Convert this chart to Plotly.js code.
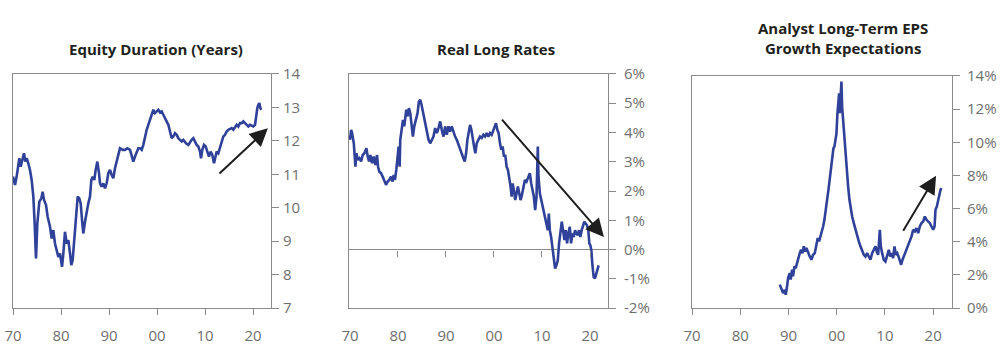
<!DOCTYPE html>
<html>
<head>
<meta charset="utf-8">
<script src="https://cdn.plot.ly/plotly-3.0.1.min.js"></script>
<style>
  html, body { margin: 0; padding: 0; background: #fff; }
  #chart { width: 1000px; height: 350px; }
</style>
</head>
<body>
<div id="chart"></div>
<script>
// ---- Data ----
const durYears = [1970.0,1970.42,1970.76,1971.32,1971.60,1971.88,1972.29,1972.57,1972.85,1973.19,1973.54,1973.89,1974.24,1974.51,1974.79,1975.07,1975.49,1975.90,1976.18,1976.46,1976.88,1977.22,1977.71,1978.06,1978.40,1978.75,1979.10,1979.44,1979.79,1980.21,1980.49,1980.83,1981.18,1981.53,1981.88,1982.15,1982.43,1982.71,1983.13,1983.47,1983.82,1984.10,1984.44,1984.65,1985.00,1985.35,1985.69,1986.04,1986.32,1986.60,1986.94,1987.22,1987.57,1987.92,1988.13,1988.47,1988.82,1989.17,1989.51,1989.86,1990.21,1990.56,1990.90,1991.25,1991.60,1991.94,1992.29,1992.85,1993.33,1993.82,1994.38,1994.72,1995.07,1995.42,1995.76,1996.11,1996.46,1996.81,1997.15,1997.50,1997.85,1998.19,1998.54,1998.89,1999.24,1999.58,1999.93,2000.28,2000.63,2000.97,2001.32,2001.67,2002.01,2002.36,2002.71,2003.06,2003.40,2003.75,2004.10,2004.44,2004.79,2005.14,2005.49,2006.04,2006.53,2006.88,2007.22,2007.57,2007.92,2008.26,2008.61,2008.96,2009.17,2009.44,2009.79,2010.14,2010.49,2010.83,2011.18,2011.53,2011.88,2012.15,2012.43,2012.78,2013.13,2013.47,2013.82,2014.17,2014.51,2014.86,2015.21,2015.56,2015.90,2016.25,2016.60,2016.94,2017.29,2017.64,2017.99,2018.33,2018.68,2019.03,2019.38,2019.72,2020.07,2020.42,2020.63,2020.90,2021.11,2021.32,2021.53,2021.74];
const durValues = [10.93,10.68,10.93,11.48,11.23,11.38,11.63,11.38,11.48,11.33,11.13,10.83,10.33,9.53,8.48,9.53,10.18,10.28,10.48,10.23,10.08,9.73,9.43,9.08,9.33,8.93,8.73,8.53,8.63,8.23,8.63,9.28,8.93,9.03,8.63,8.28,8.43,8.93,9.73,10.33,10.28,10.13,9.53,9.23,9.58,9.88,10.13,10.33,10.83,10.93,10.83,11.13,11.38,11.03,10.73,10.63,10.73,10.58,10.73,11.03,11.13,10.98,10.88,11.18,11.43,11.58,11.78,11.73,11.73,11.78,11.73,11.53,11.38,11.53,11.68,11.78,11.78,11.73,11.88,12.13,12.33,12.48,12.63,12.78,12.93,12.83,12.88,12.93,12.85,12.88,12.78,12.68,12.63,12.48,12.28,12.08,12.13,12.23,12.18,12.08,12.03,11.98,12.03,11.93,11.88,11.98,12.03,12.08,11.98,11.88,11.83,11.68,11.48,11.73,11.88,11.83,11.68,11.53,11.68,11.58,11.33,11.53,11.68,11.63,11.78,11.93,12.13,12.18,12.28,12.33,12.35,12.38,12.33,12.43,12.48,12.43,12.53,12.53,12.58,12.53,12.48,12.43,12.48,12.45,12.43,12.48,12.73,12.98,13.08,13.13,12.98,12.93];

const rateYears = [1970.0,1970.24,1970.45,1970.80,1971.14,1971.35,1971.63,1971.97,1972.32,1972.66,1973.01,1973.43,1973.70,1973.98,1974.26,1974.60,1974.95,1975.29,1975.64,1975.85,1976.12,1976.47,1976.82,1977.16,1977.51,1977.85,1978.20,1978.55,1978.89,1979.10,1979.38,1979.65,1979.93,1980.14,1980.35,1980.48,1980.76,1981.04,1981.31,1981.52,1981.73,1982.01,1982.28,1982.56,1982.84,1983.11,1983.39,1983.67,1984.08,1984.36,1984.64,1984.91,1985.19,1985.47,1985.74,1986.02,1986.37,1986.71,1987.06,1987.40,1987.75,1988.10,1988.44,1988.79,1989.13,1989.48,1989.83,1990.17,1990.52,1990.86,1991.21,1991.56,1991.90,1992.25,1992.60,1992.94,1993.29,1993.63,1993.91,1994.19,1994.46,1994.74,1995.02,1995.29,1995.57,1995.85,1996.12,1996.40,1996.75,1997.09,1997.44,1997.79,1998.13,1998.48,1998.82,1999.17,1999.52,1999.86,2000.21,2000.42,2000.69,2000.97,2001.25,2001.52,2001.80,2002.08,2002.35,2002.63,2002.91,2003.18,2003.46,2003.67,2003.88,2004.15,2004.43,2004.71,2004.98,2005.26,2005.54,2005.81,2006.09,2006.44,2006.78,2007.13,2007.47,2007.75,2008.03,2008.30,2008.58,2008.86,2009.13,2009.27,2009.55,2009.83,2010.10,2010.38,2010.66,2010.93,2011.21,2011.42,2011.63,2011.90,2012.18,2012.46,2012.73,2013.01,2013.29,2013.56,2013.84,2014.12,2014.39,2014.67,2014.95,2015.22,2015.50,2015.78,2016.06,2016.33,2016.61,2016.89,2017.16,2017.44,2017.72,2017.99,2018.27,2018.55,2018.82,2019.10,2019.38,2019.65,2019.86,2020.07,2020.28,2020.48,2020.76,2021.04,2021.31,2021.59,2021.80];
const rateValues = [3.75,4.09,3.98,3.63,2.83,3.29,3.06,3.12,3.01,3.23,3.29,3.46,3.18,3.01,3.23,2.95,3.18,2.89,3.23,2.83,2.66,2.61,2.49,2.32,2.21,2.32,2.38,2.49,2.32,2.55,2.38,2.72,3.18,3.52,2.83,3.75,4.09,4.43,4.21,4.66,4.78,4.55,4.83,4.66,4.32,3.86,4.21,4.43,4.66,5.06,5.12,4.95,4.72,4.49,4.32,4.09,3.75,3.63,3.75,3.86,4.15,3.98,4.15,4.38,4.09,3.86,4.21,3.92,4.21,4.03,4.21,3.98,3.86,3.75,3.58,3.41,3.23,3.12,3.01,3.29,3.75,3.98,4.26,4.09,3.75,3.52,3.29,3.63,3.75,3.86,3.81,3.92,3.86,3.98,3.86,3.98,3.92,4.09,4.26,4.32,4.09,3.98,3.63,3.41,3.52,3.18,3.23,2.83,2.72,2.49,2.15,1.81,2.26,2.03,1.69,1.92,2.15,1.92,1.69,1.86,2.15,2.38,2.32,2.49,2.61,2.26,2.03,1.81,1.35,1.81,3.52,2.49,1.92,1.69,1.58,1.35,1.12,0.89,0.66,1.23,0.66,0.43,0.09,-0.37,-0.65,-0.54,-0.37,0.21,0.66,0.95,0.66,0.32,0.66,0.21,0.55,0.78,0.21,0.55,0.43,0.66,0.55,0.49,0.66,0.43,0.66,0.78,0.95,0.89,0.83,0.66,0.21,0.15,-0.02,-0.48,-0.94,-0.99,-0.82,-0.71,-0.54];

const epsYears = [1988.19,1988.53,1988.88,1989.23,1989.43,1989.71,1989.92,1990.26,1990.47,1990.75,1990.95,1991.23,1991.51,1991.78,1992.06,1992.34,1992.61,1992.89,1993.17,1993.44,1993.72,1994.07,1994.41,1994.76,1995.10,1995.45,1995.80,1996.07,1996.35,1996.62,1996.90,1997.18,1997.45,1997.73,1998.01,1998.29,1998.56,1998.84,1999.11,1999.32,1999.53,1999.74,1999.95,2000.15,2000.29,2000.50,2000.64,2000.77,2000.98,2001.12,2001.26,2001.47,2001.67,2001.88,2002.09,2002.37,2002.64,2002.92,2003.20,2003.54,2003.89,2004.23,2004.58,2004.92,2005.27,2005.62,2005.96,2006.31,2006.65,2007.00,2007.34,2007.69,2008.04,2008.31,2008.59,2008.94,2009.14,2009.42,2009.76,2010.11,2010.46,2010.80,2011.08,2011.36,2011.70,2011.98,2012.25,2012.53,2012.81,2013.08,2013.36,2013.64,2013.91,2014.19,2014.47,2014.81,2015.16,2015.51,2015.85,2016.20,2016.54,2016.89,2017.23,2017.58,2017.93,2018.27,2018.62,2018.96,2019.31,2019.65,2020.00,2020.28,2020.48,2020.76,2021.04,2021.25,2021.52,2021.73];
const epsValues = [1.41,1.10,0.90,1.10,0.80,1.31,1.81,2.11,1.71,2.31,1.91,2.51,2.41,2.71,3.11,3.31,3.51,3.31,3.72,3.41,3.62,3.31,3.11,2.91,3.21,3.31,3.72,4.22,4.02,4.32,4.52,4.92,5.32,6.13,6.53,7.13,7.73,8.34,8.94,9.64,9.74,10.14,10.54,11.75,12.55,12.95,11.75,12.55,13.66,12.15,11.55,10.75,9.74,8.94,8.34,7.33,6.53,5.92,5.52,5.12,4.72,4.32,4.02,3.72,3.51,3.21,3.11,3.31,3.11,2.91,3.31,3.51,3.72,3.41,3.21,4.72,3.72,3.31,2.91,2.81,3.11,3.51,3.11,3.31,3.01,3.72,3.21,3.31,3.11,2.91,2.61,2.91,3.11,3.41,3.62,3.82,4.12,4.32,4.72,4.62,4.82,4.52,4.92,5.12,5.22,5.52,5.32,5.22,5.12,4.92,4.72,4.92,5.92,6.13,6.53,6.83,7.13,7.23];

const panelTitles = ["Equity Duration (Years)", "Real Long Rates", "Analyst Long-Term EPS<br>Growth Expectations"];
const xTickVals = [1970, 1980, 1990, 2000, 2010, 2020];
const xTickText = ["70", "80", "90", "00", "10", "20"];
const durTickVals = [7, 8, 9, 10, 11, 12, 13, 14];
const rateTickVals = [-2, -1, 0, 1, 2, 3, 4, 5, 6];
const rateTickText = ["-2%", "-1%", "0%", "1%", "2%", "3%", "4%", "5%", "6%"];
const epsTickVals = [0, 2, 4, 6, 8, 10, 12, 14];
const epsTickText = ["0%", "2%", "4%", "6%", "8%", "10%", "12%", "14%"];
// trend arrows: [tailYear, tailValue, headYear, headValue]
const durArrow = [2012.7, 10.98, 2023.1, 12.38];
const rateArrow = [2001.4, 4.49, 2022.9, 0.43];
const epsArrow = [2013.6, 4.57, 2020.6, 7.98];

// ---- Styles ----
const lineColor = "#2f4199";
const axisColor = "#8a8a8a";
const tickFont = { family: "Open Sans, Lato, sans-serif", size: 15, color: "#6f6f6f" };
const titleFont = { family: "Open Sans, Roboto, sans-serif", size: 15, color: "#231f20", weight: 700 };

function series(x, y, xa, ya) {
  return { x: x, y: y, xaxis: xa, yaxis: ya, type: "scatter", mode: "lines",
           line: { color: lineColor, width: 2.6 }, hoverinfo: "skip", showlegend: false };
}

const traces = [
  series(durYears, durValues, "x", "y"),
  series(rateYears, rateValues, "x2", "y2"),
  series(epsYears, epsValues, "x3", "y3"),
  { x: [], y: [], xaxis: "x4", yaxis: "y2", type: "scatter", mode: "lines", showlegend: false, hoverinfo: "skip" }
];

function xAxis(domain, range, anchor, extra) {
  return Object.assign({
    domain: domain, range: range, anchor: anchor,
    tickvals: xTickVals, ticktext: xTickText,
    ticks: "outside", ticklen: 6, tickwidth: 1, tickcolor: axisColor,
    showline: true, linecolor: axisColor, linewidth: 1, mirror: true,
    showgrid: false, zeroline: false, tickfont: tickFont, ticklabelstandoff: 8,
    fixedrange: true
  }, extra || {});
}
function yAxis(domain, range, anchor, tickvals, ticktext, extra) {
  return Object.assign({
    domain: domain, range: range, anchor: anchor, side: "right",
    tickvals: tickvals, ticktext: ticktext,
    ticks: "outside", ticklen: 7, tickwidth: 1, tickcolor: axisColor,
    showline: true, linecolor: axisColor, linewidth: 1, mirror: true,
    showgrid: false, zeroline: false, tickfont: tickFont,
    fixedrange: true
  }, extra || {});
}

const yDom12 = [0.12, 0.7886];
const yDom3 = [0.12, 0.7829];

function arrow(a, xref, yref) {
  return { x: a[2], y: a[3], ax: a[0], ay: a[1], xref: xref, yref: yref, axref: xref, ayref: yref,
           text: "", showarrow: true, arrowhead: 2, arrowsize: 1.8, arrowwidth: 2, arrowcolor: "#1e1e1e",
           standoff: 0, startstandoff: 0 };
}

const layout = {
  width: 1000, height: 350,
  margin: { l: 0, r: 0, t: 0, b: 0 },
  paper_bgcolor: "#ffffff", plot_bgcolor: "#ffffff",
  showlegend: false,
  xaxis: xAxis([0.013, 0.271], [1970, 2023.75], "y"),
  yaxis: yAxis(yDom12, [7, 14], "x", durTickVals, durTickVals.map(String), { ticklabelstandoff: 1 }),
  xaxis2: xAxis([0.349, 0.608], [1969.8, 2023.75], "y2", { tickcolor: "rgba(0,0,0,0)" }),
  yaxis2: yAxis(yDom12, [-2, 6], "x2", rateTickVals, rateTickText,
                { zeroline: true, zerolinecolor: axisColor, zerolinewidth: 1, ticklabelstandoff: 5 }),
  xaxis4: { overlaying: "x2", anchor: "free", position: 0.2857, range: [1969.8, 2023.75],
            tickvals: [1980, 1990, 2000, 2010, 2020], ticks: "outside", ticklen: 6, tickwidth: 1,
            tickcolor: axisColor, showticklabels: false, showline: false, showgrid: false, zeroline: false,
            fixedrange: true },
  xaxis3: xAxis([0.692, 0.952], [1970, 2023.9], "y3"),
  yaxis3: yAxis(yDom3, [0, 14], "x3", epsTickVals, epsTickText, { ticklabelstandoff: 4 }),
  annotations: [
    { text: panelTitles[0], x: 156, y: 49, xref: "paper", yref: "paper", showarrow: false, font: titleFont },
    { text: panelTitles[1], x: 496, y: 49, xref: "paper", yref: "paper", showarrow: false, font: titleFont },
    { text: panelTitles[2], x: 843, y: 38, xref: "paper", yref: "paper", showarrow: false, font: titleFont },
    arrow(durArrow, "x", "y"),
    arrow(rateArrow, "x2", "y2"),
    arrow(epsArrow, "x3", "y3")
  ]
};
// convert title pixel positions to paper fractions
layout.annotations.slice(0, 3).forEach(a => { a.x = a.x / 1000; a.y = 1 - a.y / 350; a.xanchor = "center"; a.yanchor = "middle"; });

Plotly.newPlot("chart", traces, layout, { staticPlot: true, displayModeBar: false });
</script>
</body>
</html>
